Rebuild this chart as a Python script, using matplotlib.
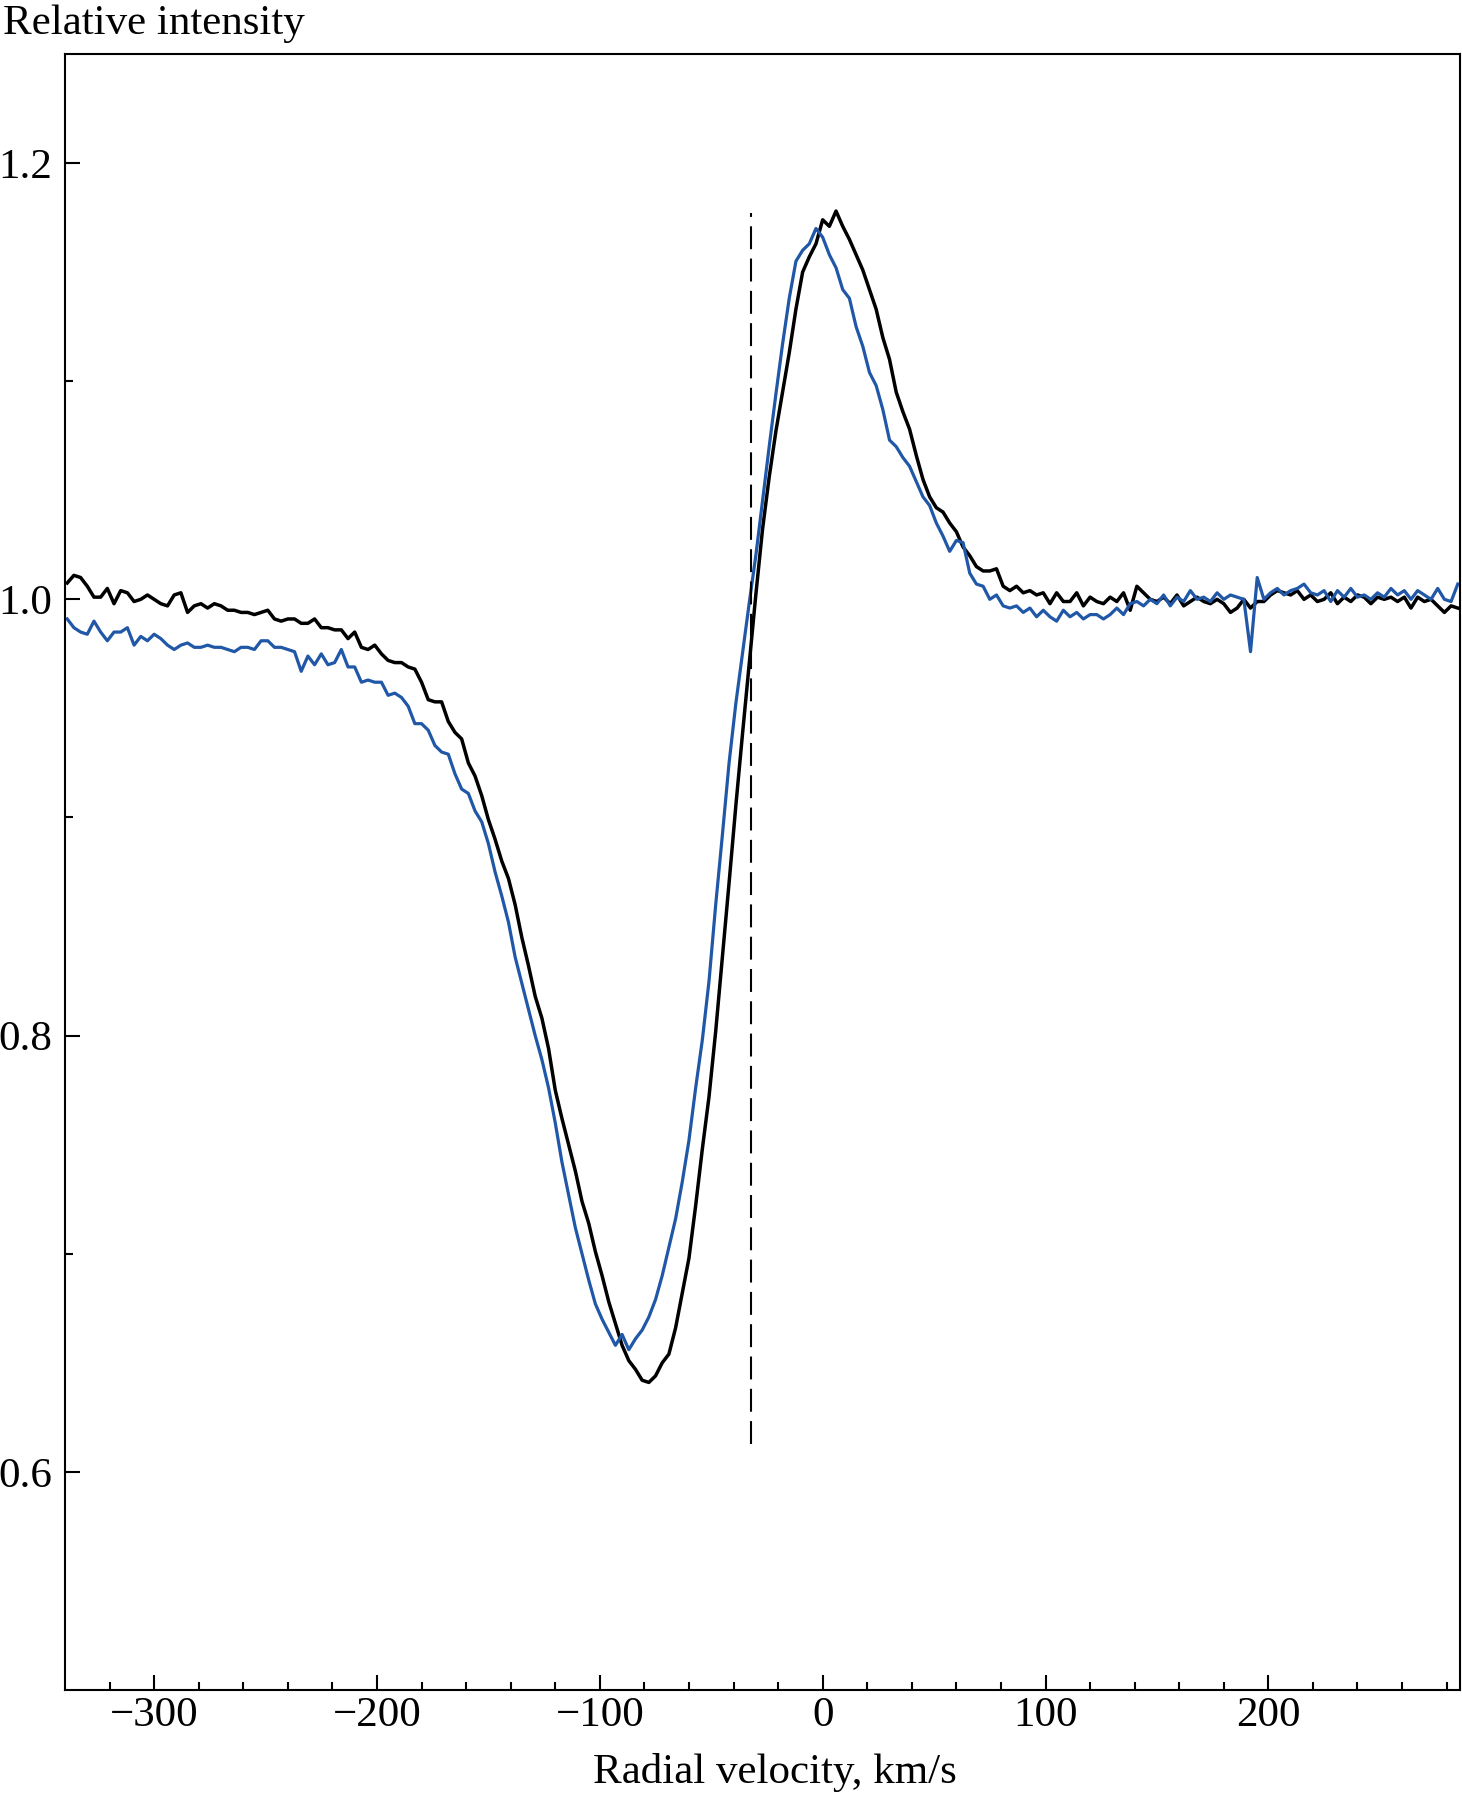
import numpy as np
import matplotlib
matplotlib.use("Agg")
import matplotlib.pyplot as plt

plt.rcParams['font.family'] = ['Liberation Serif', 'DejaVu Serif']

# radial velocity grid, km/s
velocity = np.arange(-339, 286, 3)

# profile 1 (black)
profile_black = [
    1.0075, 1.011, 1.010, 1.006, 1.001, 1.001, 1.005, 0.998, 1.004, 1.003,
    0.999, 1.000, 1.002, 1.000, 0.998, 0.997, 1.002, 1.003, 0.994, 0.997,
    0.998, 0.996, 0.998, 0.997, 0.995, 0.995, 0.994, 0.994, 0.993, 0.994,
    0.995, 0.991, 0.990, 0.991, 0.991, 0.989, 0.989, 0.991, 0.987, 0.987,
    0.986, 0.986, 0.982, 0.985, 0.978, 0.977, 0.979, 0.975, 0.972, 0.971,
    0.971, 0.969, 0.968, 0.962, 0.954, 0.953, 0.953, 0.944, 0.939, 0.936,
    0.925, 0.919, 0.910, 0.899, 0.890,
    0.880, 0.872, 0.860, 0.845, 0.832, 0.818, 0.808, 0.794, 0.775, 0.762,
    0.750, 0.738, 0.724, 0.714, 0.701, 0.690, 0.678, 0.668, 0.658, 0.651,
    0.647, 0.642, 0.641, 0.644, 0.650, 0.654, 0.666, 0.682, 0.698, 0.722,
    0.748, 0.772, 0.802, 0.836, 0.870, 0.905, 0.938, 0.970, 1.002, 1.032,
    1.056, 1.077, 1.095, 1.113, 1.133, 1.150, 1.157, 1.163, 1.174, 1.171,
    1.178, 1.171, 1.165, 1.158, 1.151, 1.142, 1.133, 1.120, 1.110, 1.095,
    1.086, 1.078, 1.066, 1.055, 1.047, 1.042, 1.040, 1.035, 1.031, 1.024,
    1.020, 1.015, 1.013, 1.013, 1.014, 1.006, 1.004, 1.006, 1.003, 1.004,
    1.002, 1.003, 0.998, 1.003, 0.999, 0.999, 1.003, 0.997, 1.001, 0.999,
    0.998, 1.001, 0.999, 1.003, 0.995, 1.006, 1.003, 1.000, 0.999, 1.001,
    0.998, 1.002, 0.997, 0.999, 1.001, 0.999, 0.998, 1.000, 0.998, 0.994,
    0.996, 1.000, 0.996, 0.999, 0.999, 1.002, 1.004, 1.003, 1.002, 1.004,
    1.000, 1.002, 0.999, 1.000, 1.003, 0.998, 1.001, 0.999, 1.002, 1.001,
    0.998, 1.001, 1.000, 1.001, 0.999, 1.001, 0.996, 1.001, 0.999, 1.000,
    0.997, 0.994, 0.997, 0.996,
]

# profile 2 (blue)
profile_blue = [
    0.991, 0.987, 0.985, 0.984, 0.990, 0.985, 0.981, 0.985, 0.985, 0.987,
    0.979, 0.983, 0.981, 0.984, 0.982, 0.979, 0.977, 0.979, 0.980, 0.978,
    0.978, 0.979, 0.978, 0.978, 0.977, 0.976, 0.978, 0.978, 0.977, 0.981,
    0.981, 0.978, 0.978, 0.977, 0.976, 0.967, 0.974, 0.970, 0.975, 0.970,
    0.971, 0.977, 0.969, 0.969, 0.962, 0.963, 0.962, 0.962, 0.956, 0.957,
    0.955, 0.951, 0.943, 0.943, 0.940, 0.933, 0.930, 0.929, 0.920, 0.913,
    0.911, 0.903, 0.898, 0.888, 0.875,
    0.864, 0.852, 0.836, 0.824, 0.812, 0.800, 0.789, 0.776, 0.760, 0.742,
    0.727, 0.712, 0.700, 0.688, 0.677, 0.670, 0.664, 0.658, 0.663, 0.656,
    0.661, 0.665, 0.671, 0.679, 0.690, 0.703, 0.716, 0.733, 0.752, 0.776,
    0.798, 0.825, 0.860, 0.892, 0.925, 0.952, 0.975, 0.998, 1.020, 1.045,
    1.070, 1.094, 1.117, 1.138, 1.155, 1.160, 1.163, 1.170, 1.166, 1.158,
    1.152, 1.142, 1.138, 1.125, 1.116, 1.104, 1.098, 1.087, 1.073, 1.070,
    1.065, 1.061, 1.054, 1.047, 1.043, 1.035, 1.029, 1.022, 1.027, 1.026,
    1.012, 1.007, 1.006, 1.000, 1.002, 0.997, 0.996, 0.997, 0.994, 0.996,
    0.992, 0.995, 0.992, 0.990, 0.995, 0.992, 0.994, 0.991, 0.993, 0.993,
    0.991, 0.993, 0.996, 0.993, 0.998, 0.999, 0.997, 1.000, 0.998, 1.002,
    0.997, 1.001, 0.999, 1.004, 1.000, 1.001, 0.999, 1.003, 1.000, 1.002,
    1.001, 1.000, 0.976, 1.010, 1.000, 1.003, 1.005, 1.002, 1.004, 1.005,
    1.007, 1.003, 1.002, 1.004, 0.999, 1.004, 1.001, 1.005, 1.001, 1.002,
    1.000, 1.003, 1.001, 1.005, 1.002, 1.004, 1.000, 1.004, 1.002, 1.000,
    1.005, 1.000, 0.999, 1.007,
]

marker_velocity = -32
marker_range = [0.613, 1.177]

print(len(velocity), len(profile_black), len(profile_blue))

fig = plt.figure(figsize=(14.62, 17.98), dpi=100)
ax = fig.add_axes([65 / 1462, 1 - 1690 / 1798, (1460 - 65) / 1462, (1690 - 54) / 1798])

ax.plot(velocity, profile_black, color='black', lw=2.5)
ax.plot(velocity, profile_blue, color='#2057a7', lw=2.3)
ax.vlines(marker_velocity, marker_range[0], marker_range[1], colors='black',
          lw=1.5, linestyles=(0, (11, 4.5)))

ax.set_xlim(-340, 286)
ax.set_ylim(0.5, 1.25)
ax.set_xticks([-300, -200, -100, 0, 100, 200])
ax.set_xticks(np.arange(-320, 286, 20), minor=True)
ax.set_yticks([0.6, 0.8, 1.0, 1.2])
ax.set_yticks([0.7, 0.9, 1.1], minor=True)
ax.yaxis.set_major_formatter(matplotlib.ticker.FormatStrFormatter('%.1f'))

ax.tick_params(which='both', direction='in', top=False, right=False, width=1.5,
               labelsize=31)
ax.tick_params(which='major', length=11)
ax.tick_params(which='minor', length=6)
ax.tick_params(axis='x', pad=5)
ax.tick_params(axis='y', pad=9)
for s in ax.spines.values():
    s.set_linewidth(1.5)

fig.text(0.002, 1 - 34 / 1798, 'Relative intensity', fontsize=31, va='baseline', ha='left')
fig.text(775 / 1462, 1 - 1783 / 1798, 'Radial velocity, km/s', fontsize=31,
         va='baseline', ha='center')

fig.savefig('out.png', dpi=100)
